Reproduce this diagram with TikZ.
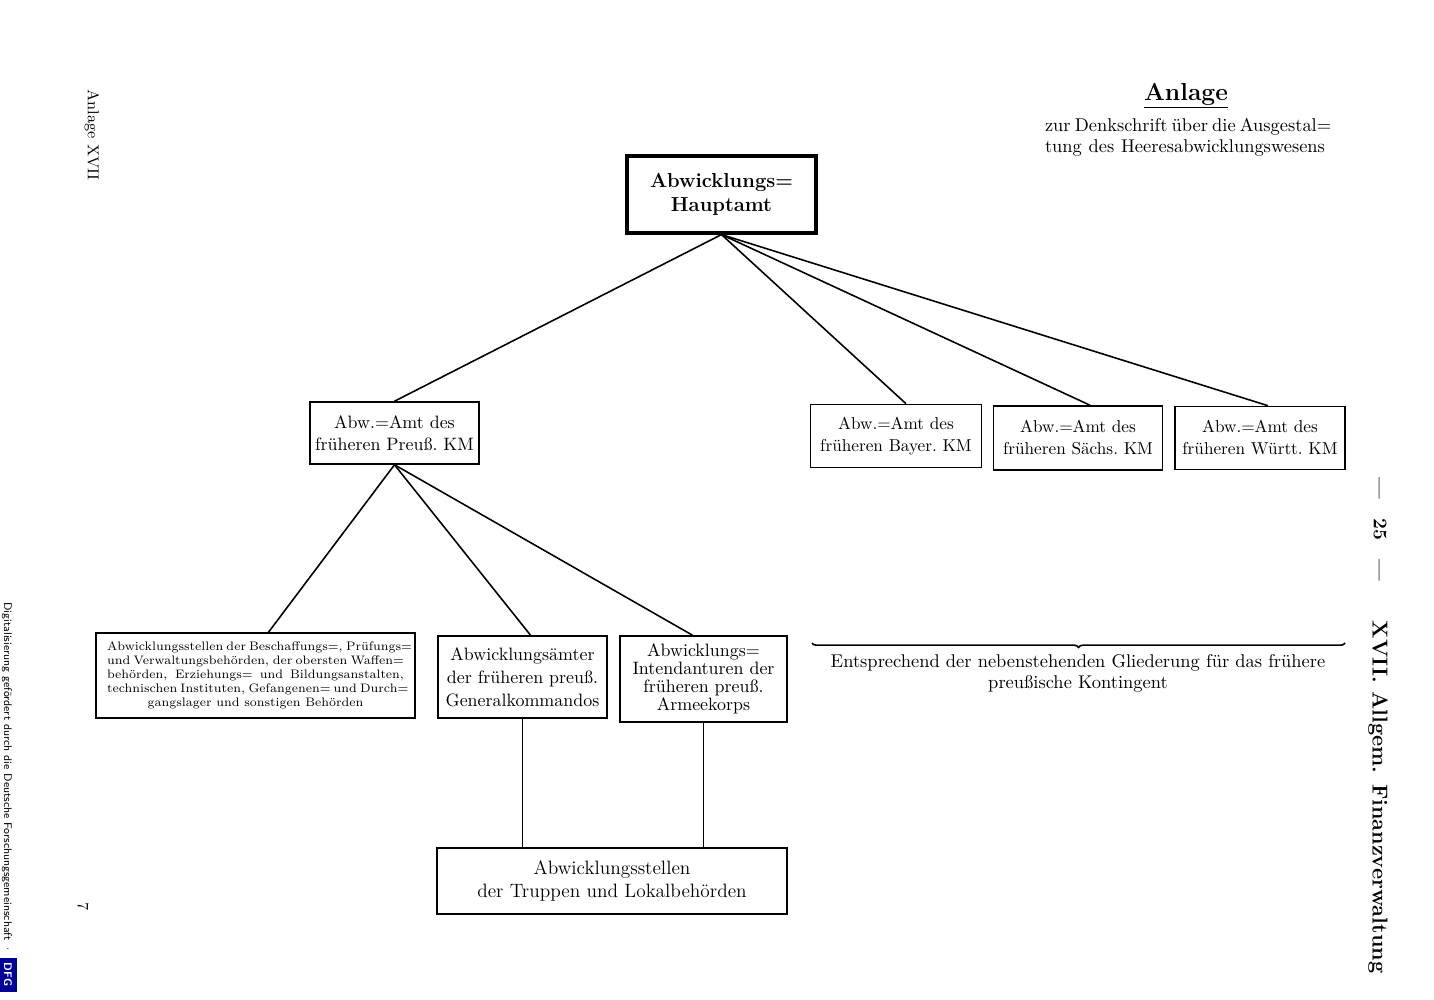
\documentclass[tikz,border=0pt]{standalone}
\usepackage{tikz}
\usetikzlibrary{positioning}
\usetikzlibrary{decorations.pathreplacing}
\usetikzlibrary{calc}

\begin{document}
\begin{tikzpicture}[x=0.02cm, y=-0.02cm,
	amt/.style={draw, line width=0.9pt, align=center, inner sep=0pt,
		font=\fontsize{10.2}{12.5}\selectfont},
	rand/.style={rotate=-90, inner sep=0pt}]
\useasboundingbox (0,0) rectangle (1434,1000);

% Kopf
\node[font=\bfseries\fontsize{14}{14}\selectfont] (anlage) at (1186,96) {\underline{Anlage}};
\node[align=center, inner sep=0pt, font=\fontsize{10.5}{12}\selectfont] (denk) at (1185,137)
	{\makebox[5.6cm][s]{zur Denkschrift über die Ausgestal=}\\
	 \makebox[5.6cm][s]{tung des Heeresabwicklungswesens}};

% Baum
\node[amt, line width=1.8pt, minimum width=3.78cm, minimum height=1.54cm,
	font=\bfseries\fontsize{11.5}{13.6}\selectfont] (haupt) at (721.5,194.5) {Abwicklungs=\\Hauptamt};

\node[amt, minimum width=3.38cm, minimum height=1.24cm] (preuss) at (394.5,433) {Abw.=Amt des\\früheren Preuß.~KM};
\node[amt, minimum width=3.42cm, minimum height=1.26cm, font=\fontsize{9.8}{12.5}\selectfont] (bayer) at (896,436) {Abw.=Amt des\\früheren Bayer.~KM};
\node[amt, minimum width=3.38cm, minimum height=1.28cm, font=\fontsize{9.8}{12.5}\selectfont] (saechs) at (1078,438) {Abw.=Amt des\\früheren Sächs.~KM};
\node[amt, minimum width=3.40cm, minimum height=1.26cm, font=\fontsize{9.8}{12.5}\selectfont] (wuertt) at (1260,438) {Abw.=Amt des\\früheren Württ.~KM};

\node[amt, minimum width=6.38cm, minimum height=1.70cm, font=\fontsize{7}{7.9}\selectfont] (stellen) at (255.5,675.5)
	{\makebox[5.94cm][s]{Abwicklungsstellen der Beschaffungs=, Prüfungs=}\\
	 \makebox[5.94cm][s]{und Verwaltungsbehörden, der obersten Waffen=}\\
	 \makebox[5.94cm][s]{behörden, Erziehungs= und Bildungsanstalten,}\\
	 \makebox[5.94cm][s]{technischen Instituten, Gefangenen= und Durch=}\\
	 gangslager und sonstigen Behörden};
\node[amt, minimum width=3.38cm, minimum height=1.64cm, font=\fontsize{10.2}{13}\selectfont] (general) at (522.5,677)
	{Abwicklungsämter\\der früheren preuß.\\Generalkommandos};
\node[amt, minimum width=3.34cm, minimum height=1.72cm, font=\fontsize{10.2}{10.3}\selectfont] (intend) at (703.5,679)
	{Abwicklungs=\\Intendanturen der\\früheren preuß.\\Armeekorps};

\node[amt, minimum width=7.00cm, minimum height=1.32cm, font=\fontsize{11}{13.6}\selectfont] (truppen) at (612,881)
	{Abwicklungsstellen\\der Truppen und Lokalbehörden};

\draw[line width=0.9pt] (haupt.south) -- (preuss.north);
\draw[line width=0.9pt] (haupt.south) -- ($(bayer.north)+(10,0)$);
\draw[line width=0.9pt] (haupt.south) -- ($(saechs.north)+(12,0)$);
\draw[line width=0.9pt] (haupt.south) -- ($(wuertt.north)+(8,0)$);

\draw[line width=0.9pt] (preuss.south) -- ($(stellen.north)+(13,0)$);
\draw[line width=0.9pt] (preuss.south) -- ($(general.north)+(8,0)$);
\draw[line width=0.9pt] (preuss.south) -- ($(intend.north)+(-11,0)$);

\draw[line width=0.9pt] (general.south) -- (general.south |- truppen.north);
\draw[line width=0.9pt] (intend.south) -- (intend.south |- truppen.north);

% Klammer
\coordinate (kl0) at (812,643);
\coordinate (kl1) at (1345,643);
\draw[line width=0.9pt, decorate, decoration={brace, mirror, amplitude=2.5pt}] (kl0) -- (kl1);
\node[align=center, inner sep=0pt, font=\fontsize{10.5}{12}\selectfont] (entspr) at (1078,673)
	{Entsprechend der nebenstehenden Gliederung für das frühere\\preußische Kontingent};

% Rand
\node[rand, font=\fontsize{9}{9}\selectfont] (randl) at (92,135) {Anlage XVII};
\node[rand, font=\fontsize{9}{9}\selectfont] (seite) at (83,907) {7};
\node[rand, font=\sffamily\fontsize{6.3}{6.3}\selectfont] (dfg) at (8,797)
	{Digitalisierung gefördert durch die Deutsche Forschungsgemeinschaft ·
	 \colorbox{blue!60!black}{\textcolor{white}{\bfseries DFG}}};
\node[rand, font=\bfseries\fontsize{11}{11}\selectfont] (nr) at (1380,529) {---\quad 25\quad ---};
\node[rand, font=\bfseries\fontsize{12.3}{12.3}\selectfont] (titel) at (1378,797) {XVII. Allgem. Finanzverwaltung};
\end{tikzpicture}
\end{document}
